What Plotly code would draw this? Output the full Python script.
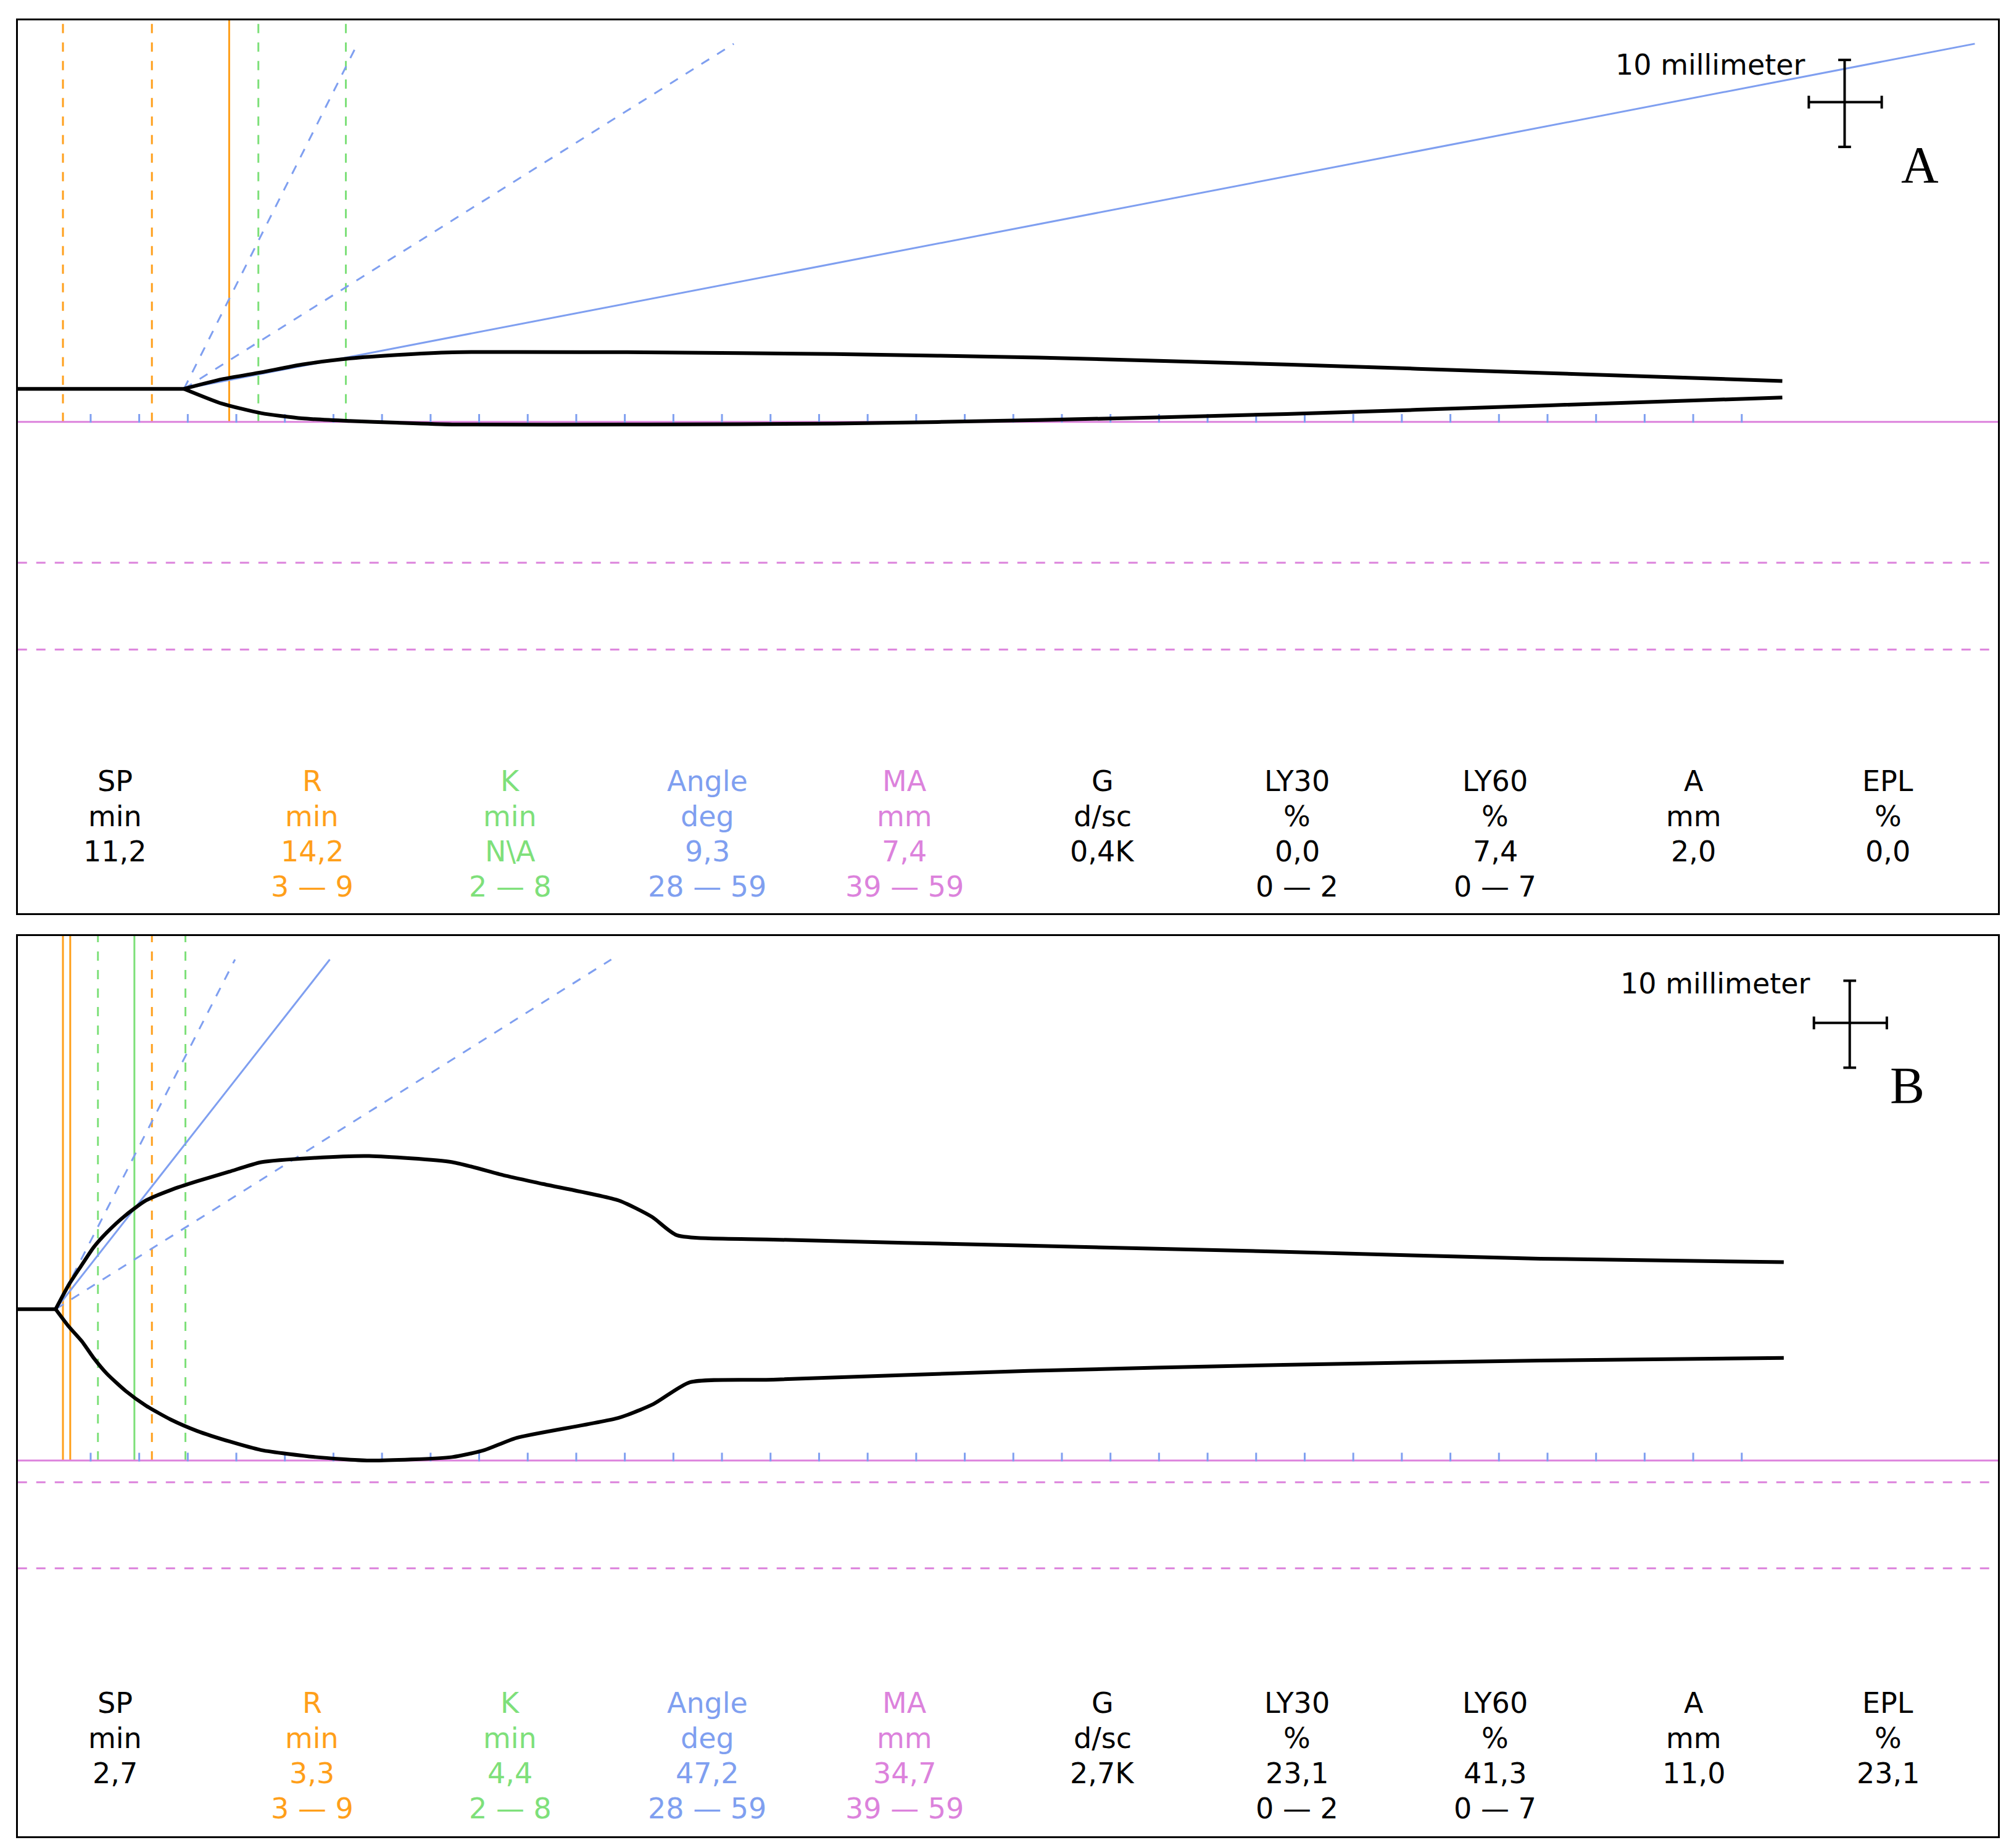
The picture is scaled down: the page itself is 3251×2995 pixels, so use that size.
import plotly.graph_objects as go

# ---- data (x in minutes, y in mm relative to the pink baseline) ----
X_MAX = 135.8
ORANGE = "#ff9f1a"
GREEN = "#7ee07a"
BLUE = "#7f9ff0"
PINK = "#dc82dc"

# panel A
a_flat_x = [0, 11.4]
a_flat_y = [3.8, 3.8]
a_x = [11.4, 14.0, 16.7, 19.5, 22.8, 26.0, 29.8, 43, 56, 70, 87, 105, 121]
a_upper = [3.8, 4.9, 5.7, 6.6, 7.3, 7.7, 8.0, 8.0, 7.8, 7.4, 6.6, 5.6, 4.7]
a_lower = [3.8, 2.1, 1.0, 0.4, 0.1, -0.1, -0.3, -0.3, -0.2, 0.2, 0.9, 1.9, 2.8]
a_orange_dash = [3.1, 9.2]
a_orange_solid = [14.5]
a_green_dash = [16.5, 22.5]
a_blue_end = [(23.3, "longdash"), (49.1, "longdash"), (134.2, "solid")]
a_pink_dash = [-16.2, -26.2]
a_yrange = [-56.5, 46.2]

# panel B
b_flat_x = [0, 2.6]
b_flat_y = [17.4, 17.4]
b_x = [2.6, 3.5, 4.4, 5.2, 6.1, 7.4, 8.8, 10.5, 12.3, 14.5, 16.7, 20.4, 24.1, 29.8, 33.3, 36.0, 41.2, 43.5, 45.2, 51.8, 69.3, 86.8, 104.4, 121.1]
b_upper = [17.4, 20.2, 22.5, 24.5, 26.2, 28.2, 29.9, 31.1, 32.1, 33.2, 34.3, 34.8, 35.0, 34.3, 32.8, 31.8, 29.9, 28.0, 25.9, 25.4, 24.7, 24.0, 23.2, 22.8]
b_lower_x = [2.6, 3.5, 4.4, 5.2, 6.1, 7.4, 8.8, 10.5, 12.3, 14.5, 16.7, 20.4, 24.1, 29.8, 32.0, 34.2, 41.2, 43.6, 46.1, 51.8, 69.3, 86.8, 104.4, 121.1]
b_lower = [17.4, 15.4, 13.7, 11.8, 10.0, 8.0, 6.3, 4.7, 3.4, 2.2, 1.2, 0.4, 0.0, 0.4, 1.2, 2.6, 4.9, 6.5, 9.0, 9.3, 10.3, 11.0, 11.5, 11.8]
b_orange_solid = [3.1, 3.6]
b_green_dash = [5.5, 11.5]
b_green_solid = [8.0]
b_orange_dash = [9.2]
b_blue_end = [(14.9, "longdash"), (21.4, "solid"), (40.7, "longdash")]
b_pink_dash = [-2.5, -12.4]
b_yrange = [-43.2, 60.3]

tick_min = [5 + 3.33 * i for i in range(35)]

headers = ["SP", "R", "K", "Angle", "MA", "G", "LY30", "LY60", "A", "EPL"]
units = ["min", "min", "min", "deg", "mm", "d/sc", "%", "%", "mm", "%"]
col_colors = ["black", ORANGE, GREEN, BLUE, PINK, "black", "black", "black", "black", "black"]
a_values = ["11,2", "14,2", "N\\A", "9,3", "7,4", "0,4K", "0,0", "7,4", "2,0", "0,0"]
b_values = ["2,7", "3,3", "4,4", "47,2", "34,7", "2,7K", "23,1", "41,3", "11,0", "23,1"]
ranges = ["", "3 — 9", "2 — 8", "28 — 59", "39 — 59", "", "0 — 2", "0 — 7", "", ""]
col_x = [86, 240, 395, 549, 703, 858, 1010, 1165, 1320, 1472]

W, H = 1568, 1445  # display units of the reference


def px(x):
    return x / W


def py(y):
    return 1 - y / H


fig = go.Figure()


def add_panel(xa, ya, fx, fy, ux, uy, lx, ly, vlines, blue_end, pink_dash, yr):
    k = dict(xaxis=xa, yaxis=ya, showlegend=False, hoverinfo="skip", mode="lines")
    for xs, col, dash in vlines:
        for v in xs:
            fig.add_trace(go.Scatter(x=[v, v], y=[0, 100], line=dict(color=col, width=3, dash=dash), **k))
    for xe, dash in blue_end:
        fig.add_trace(go.Scatter(x=[fx[1], xe], y=[fy[1], yr[1] - 2.7], line=dict(color=BLUE, width=3, dash=dash), **k))
    fig.add_trace(go.Scatter(x=[0, X_MAX], y=[0, 0], line=dict(color=PINK, width=3), **k))
    for v in pink_dash:
        fig.add_trace(go.Scatter(x=[0, X_MAX], y=[v, v], line=dict(color=PINK, width=3, dash="longdash"), **k))
    fig.add_trace(go.Scatter(x=tick_min, y=[0.4] * len(tick_min), mode="markers", xaxis=xa, yaxis=ya,
                             showlegend=False, hoverinfo="skip",
                             marker=dict(symbol="line-ns", size=10, line=dict(color=BLUE, width=3))))
    fig.add_trace(go.Scatter(x=fx, y=fy, line=dict(color="black", width=6), **k))
    fig.add_trace(go.Scatter(x=ux, y=uy, line=dict(color="black", width=6, shape="spline", smoothing=0.6), **k))
    fig.add_trace(go.Scatter(x=lx, y=ly, line=dict(color="black", width=6, shape="spline", smoothing=0.6), **k))


add_panel("x", "y", a_flat_x, a_flat_y, a_x, a_upper, a_x, a_lower,
          [(a_orange_dash, ORANGE, "longdash"), (a_orange_solid, ORANGE, "solid"), (a_green_dash, GREEN, "longdash")],
          a_blue_end, a_pink_dash, a_yrange)
add_panel("x2", "y2", b_flat_x, b_flat_y, b_x, b_upper, b_lower_x, b_lower,
          [(b_orange_solid, ORANGE, "solid"), (b_green_dash, GREEN, "longdash"), (b_green_solid, GREEN, "solid"),
           (b_orange_dash, ORANGE, "longdash")],
          b_blue_end, b_pink_dash, b_yrange)

ax = dict(showline=True, mirror=True, linecolor="black", linewidth=3, showgrid=False,
          zeroline=False, showticklabels=False, ticks="")
fig.update_layout(
    width=3251, height=2995, margin=dict(l=0, r=0, t=0, b=0),
    plot_bgcolor="white", paper_bgcolor="white",
    font=dict(family="DejaVu Sans", size=46, color="black"),
    xaxis=dict(domain=[px(10), px(1558)], range=[0, X_MAX], anchor="y", **ax),
    yaxis=dict(domain=[py(710), py(12)], range=a_yrange, anchor="x", **ax),
    xaxis2=dict(domain=[px(10), px(1558)], range=[0, X_MAX], anchor="y2", **ax),
    yaxis2=dict(domain=[py(1432), py(728)], range=b_yrange, anchor="x2", **ax),
)

shapes = []
ann = []
for top, vals, cx, cy, mx, mlab, letter, lab in [
        (607, a_values, 1438, 76, 1333, 47, 1497, "A"),
        (1328, b_values, 1442, 796, 1337, 765, 1487, "B")]:
    rows = [headers, units, vals, ranges]
    for r, row in enumerate(rows):
        for i, t in enumerate(row):
            if not t:
                continue
            ann.append(dict(x=px(col_x[i]), y=py(top + r * 27.5), xref="paper", yref="paper", text=t,
                            xanchor="center", yanchor="middle",
                            showarrow=False, font=dict(color=col_colors[i], size=46)))
    ann.append(dict(x=px(mx), y=py(mlab), xref="paper", yref="paper", text="10 millimeter",
                    xanchor="center", yanchor="middle", showarrow=False, font=dict(size=46)))
    ann.append(dict(x=px(letter), y=py(cy + 49), xref="paper", yref="paper", text=lab,
                    xanchor="center", yanchor="middle",
                    showarrow=False, font=dict(size=84, family="Liberation Serif")))
    lw = dict(color="black", width=4)
    shapes += [
        dict(type="line", xref="paper", yref="paper", x0=px(cx), x1=px(cx), y0=py(cy - 33), y1=py(cy + 35), line=lw),
        dict(type="line", xref="paper", yref="paper", x0=px(cx - 28), x1=px(cx + 29), y0=py(cy), y1=py(cy), line=lw),
        dict(type="line", xref="paper", yref="paper", x0=px(cx - 5), x1=px(cx + 5), y0=py(cy - 33), y1=py(cy - 33), line=lw),
        dict(type="line", xref="paper", yref="paper", x0=px(cx - 5), x1=px(cx + 5), y0=py(cy + 35), y1=py(cy + 35), line=lw),
        dict(type="line", xref="paper", yref="paper", x0=px(cx - 28), x1=px(cx - 28), y0=py(cy - 5), y1=py(cy + 5), line=lw),
        dict(type="line", xref="paper", yref="paper", x0=px(cx + 29), x1=px(cx + 29), y0=py(cy - 5), y1=py(cy + 5), line=lw),
    ]
fig.update_layout(annotations=ann, shapes=shapes)

fig.write_html("out.html")
